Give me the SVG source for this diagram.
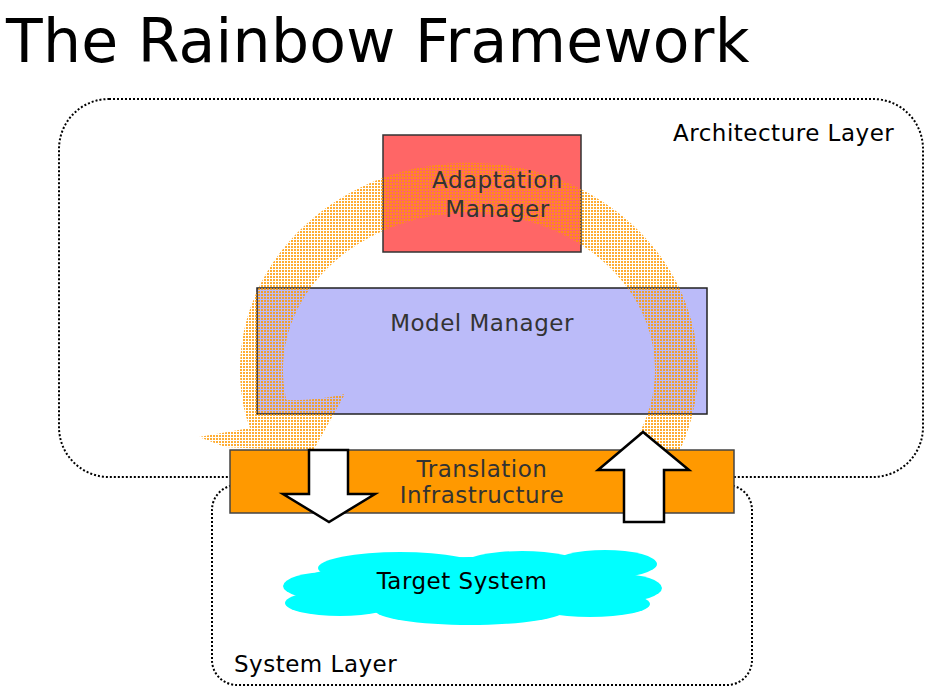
<svg xmlns="http://www.w3.org/2000/svg" width="937" height="698" viewBox="0 0 937 698">
<defs>
<style>
.lbl{font-family:"DejaVu Sans","Bitstream Vera Sans",sans-serif;font-size:23px;letter-spacing:0.5px;}
.dark{fill:#333333;}
.blk{fill:#000000;}
.layer{fill:none;stroke:#000;stroke-width:2;stroke-dasharray:2 2;}
.box{stroke-width:1.5;}
.barrow{fill:#ffffff;stroke:#000;stroke-width:2.5;stroke-linejoin:miter;}
.cloud{fill:#00ffff;}
</style>
<pattern id="dots" width="3" height="3" patternUnits="userSpaceOnUse">
<rect x="0" y="0" width="2" height="2" fill="#ff9900"/>
</pattern>
</defs>
<rect width="937" height="698" fill="#ffffff"/>
<text x="6" y="62" font-family="DejaVu Sans, sans-serif" font-size="60" letter-spacing="0.3" fill="#000">The Rainbow Framework</text>

<g id="architecture-layer">
<rect class="layer" x="59" y="99" width="864" height="378" rx="50" ry="50"/>
<text class="lbl blk" x="673" y="141">Architecture Layer</text>
</g>
<g id="system-layer">
<rect class="layer" x="212" y="485" width="540" height="200" rx="25" ry="25"/>
<text class="lbl blk" x="234" y="672">System Layer</text>
</g>

<g id="adaptation-manager">
<rect class="box" x="383" y="135" width="198" height="117" fill="#ff6666" stroke="#333"/>
</g>
<g id="model-manager">
<rect class="box" x="257" y="288" width="450" height="126" fill="#bbbbf9" stroke="#222"/>
</g>

<g id="connectors">
<path d="M 680 450 A 229 207 0 1 0 245.5 415 L 250 428 L 199 437 L 225 447 L 313 451 L 345 394 Q 315 401 286.4 400 A 186 157 0 1 1 635.5 440 L 662 457 Z" fill="url(#dots)" opacity="0.8"/>
</g>

<g id="adaptation-manager-label">
<text class="lbl dark" x="497.5" y="188" text-anchor="middle">Adaptation</text>
<text class="lbl dark" x="497.5" y="217" text-anchor="middle">Manager</text>
</g>
<g id="model-manager-label">
<text class="lbl dark" x="482" y="331" text-anchor="middle">Model Manager</text>
</g>

<g id="translation-infrastructure">
<rect class="box" x="230" y="450" width="504" height="63" fill="#ff9900" stroke="#444"/>
<text class="lbl dark" x="482" y="477" text-anchor="middle">Translation</text>
<text class="lbl dark" x="482" y="503" text-anchor="middle">Infrastructure</text>
</g>

<g id="flow-arrows">
<path class="barrow" d="M 309 450 L 348 450 L 348 494 L 375 494 L 329 522 L 283 494 L 309 494 Z"/>
<path class="barrow" d="M 624 522 L 664 522 L 664 470 L 689 470 L 643 432 L 598 470 L 624 470 Z"/>
</g>

<g id="target-system">
<ellipse class="cloud" cx="470" cy="587" rx="175" ry="30"/>
<ellipse class="cloud" cx="330" cy="586" rx="47" ry="14"/>
<ellipse class="cloud" cx="400" cy="568" rx="82" ry="16"/>
<ellipse class="cloud" cx="522" cy="564" rx="58" ry="13"/>
<ellipse class="cloud" cx="605" cy="564" rx="52" ry="14"/>
<ellipse class="cloud" cx="618" cy="588" rx="44" ry="14"/>
<ellipse class="cloud" cx="340" cy="603" rx="55" ry="13"/>
<ellipse class="cloud" cx="470" cy="610" rx="95" ry="15"/>
<ellipse class="cloud" cx="590" cy="604" rx="60" ry="13"/>
<text class="lbl blk" x="462" y="589" text-anchor="middle">Target System</text>
</g>
</svg>
